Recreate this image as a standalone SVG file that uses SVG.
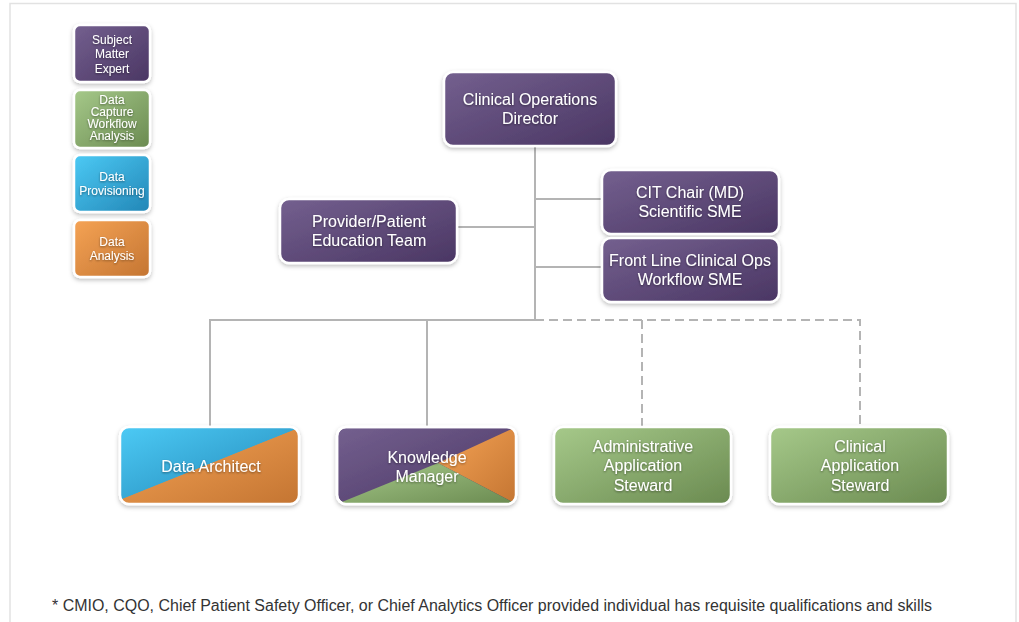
<svg xmlns="http://www.w3.org/2000/svg" width="1019" height="622" viewBox="0 0 1019 622">
<defs>
<linearGradient id="gP" x1="0" y1="0" x2="1" y2="1"><stop offset="0" stop-color="#74608f"/><stop offset="1" stop-color="#4a3663"/></linearGradient>
<linearGradient id="gG" x1="0" y1="0" x2="1" y2="1"><stop offset="0" stop-color="#a6c98a"/><stop offset="1" stop-color="#6a8a50"/></linearGradient>
<linearGradient id="gB" x1="0" y1="0" x2="1" y2="1"><stop offset="0" stop-color="#4ccaf5"/><stop offset="1" stop-color="#2286b6"/></linearGradient>
<linearGradient id="gO" x1="0" y1="0" x2="1" y2="1"><stop offset="0" stop-color="#f5a355"/><stop offset="1" stop-color="#c47532"/></linearGradient>
<filter id="sh" x="-10%" y="-10%" width="120%" height="130%"><feDropShadow dx="0" dy="2" stdDeviation="2" flood-color="#000" flood-opacity="0.25"/></filter>
<filter id="ts" x="-5%" y="-20%" width="110%" height="140%"><feDropShadow dx="0" dy="1" stdDeviation="1" flood-color="#000" flood-opacity="0.45"/></filter>
<clipPath id="cDA"><rect x="120" y="427" width="179" height="77" rx="9"/></clipPath>
<clipPath id="cKM"><rect x="337" y="427" width="179" height="77" rx="9"/></clipPath>
</defs>
<style>
.box{stroke:#fff;stroke-width:2.5;filter:url(#sh)}
.t{font-family:"Liberation Sans",Arial,sans-serif;font-size:16px;fill:#fff;text-anchor:middle;filter:url(#ts)}
.lt{font-family:"Liberation Sans",Arial,sans-serif;font-size:12px;fill:#fff;text-anchor:middle;filter:url(#ts)}
.ln{stroke:#b4b4b4;stroke-width:2;fill:none}
.dl{stroke:#b4b4b4;stroke-width:2;fill:none;stroke-dasharray:9 5}
</style>
<rect width="1019" height="622" fill="#fff"/>
<path d="M10 622 V3.5 H1016 V622" fill="none" stroke="#e2e2e2" stroke-width="1.5"/>

<g id="connectors">
<path class="ln" d="M535 146 V320"/>
<path class="ln" d="M535 199 H602"/>
<path class="ln" d="M535 267 H602"/>
<path class="ln" d="M457 227 H535"/>
<path class="ln" d="M210 427 V320 H535"/>
<path class="ln" d="M427 320 V427"/>
<path class="dl" d="M535 320 H860 V427"/>
<path class="dl" d="M642 320 V427"/>
</g>

<g id="legend-sme"><rect class="box" x="74" y="25" width="76" height="57" rx="6" fill="url(#gP)"/>
<text class="lt" x="112" y="44">Subject</text><text class="lt" x="112" y="58">Matter</text><text class="lt" x="112" y="73">Expert</text></g>
<g id="legend-capture"><rect class="box" x="74" y="90" width="76" height="58" rx="6" fill="url(#gG)"/>
<text class="lt" x="112" y="104">Data</text><text class="lt" x="112" y="116">Capture</text><text class="lt" x="112" y="128">Workflow</text><text class="lt" x="112" y="140">Analysis</text></g>
<g id="legend-provisioning"><rect class="box" x="74" y="155" width="76" height="57" rx="6" fill="url(#gB)"/>
<text class="lt" x="112" y="181">Data</text><text class="lt" x="112" y="195">Provisioning</text></g>
<g id="legend-analysis"><rect class="box" x="74" y="220" width="76" height="57" rx="6" fill="url(#gO)"/>
<text class="lt" x="112" y="246">Data</text><text class="lt" x="112" y="260">Analysis</text></g>

<g id="director"><rect class="box" x="444" y="72" width="172" height="74" rx="9" fill="url(#gP)"/>
<text class="t" x="530" y="105">Clinical Operations</text><text class="t" x="530" y="124">Director</text></g>
<g id="cit-chair"><rect class="box" x="602" y="170" width="177" height="64" rx="9" fill="url(#gP)"/>
<text class="t" x="690" y="198">CIT Chair (MD)</text><text class="t" x="690" y="217">Scientific SME</text></g>
<g id="front-line"><rect class="box" x="602" y="238" width="177" height="64" rx="9" fill="url(#gP)"/>
<text class="t" x="690" y="266">Front Line Clinical Ops</text><text class="t" x="690" y="285">Workflow SME</text></g>
<g id="provider"><rect class="box" x="280" y="199" width="177" height="64" rx="9" fill="url(#gP)"/>
<text class="t" x="369" y="227">Provider/Patient</text><text class="t" x="369" y="246">Education Team</text></g>

<g id="data-architect"><rect class="box" x="120" y="427" width="179" height="77" rx="9" fill="url(#gO)"/>
<g clip-path="url(#cDA)"><polygon points="120,427 299,427 299,428 120,500" fill="url(#gB)"/><polygon points="120,500 299,428 299,504 120,504" fill="url(#gO)"/></g>
<rect x="120" y="427" width="179" height="77" rx="9" fill="none" stroke="#fff" stroke-width="2.5"/>
<text class="t" x="211" y="472">Data Architect</text></g>

<g id="knowledge-manager"><rect class="box" x="337" y="427" width="179" height="77" rx="9" fill="url(#gP)"/>
<g clip-path="url(#cKM)"><polygon points="516,427 516,504 438,463" fill="url(#gO)"/><polygon points="337,504 438,463 516,504" fill="url(#gG)"/></g>
<rect x="337" y="427" width="179" height="77" rx="9" fill="none" stroke="#fff" stroke-width="2.5"/>
<text class="t" x="427" y="463">Knowledge</text><text class="t" x="427" y="482">Manager</text></g>

<g id="admin-steward"><rect class="box" x="554" y="427" width="177" height="77" rx="9" fill="url(#gG)"/>
<text class="t" x="643" y="452">Administrative</text><text class="t" x="643" y="471">Application</text><text class="t" x="643" y="491">Steward</text></g>
<g id="clinical-steward"><rect class="box" x="770" y="427" width="178" height="77" rx="9" fill="url(#gG)"/>
<text class="t" x="860" y="452">Clinical</text><text class="t" x="860" y="471">Application</text><text class="t" x="860" y="491">Steward</text></g>

<text x="52" y="611" font-family="'Liberation Sans',Arial,sans-serif" font-size="16" fill="#333" textLength="880" lengthAdjust="spacingAndGlyphs">* CMIO, CQO, Chief Patient Safety Officer, or Chief Analytics Officer provided individual has requisite qualifications and skills</text>
</svg>
